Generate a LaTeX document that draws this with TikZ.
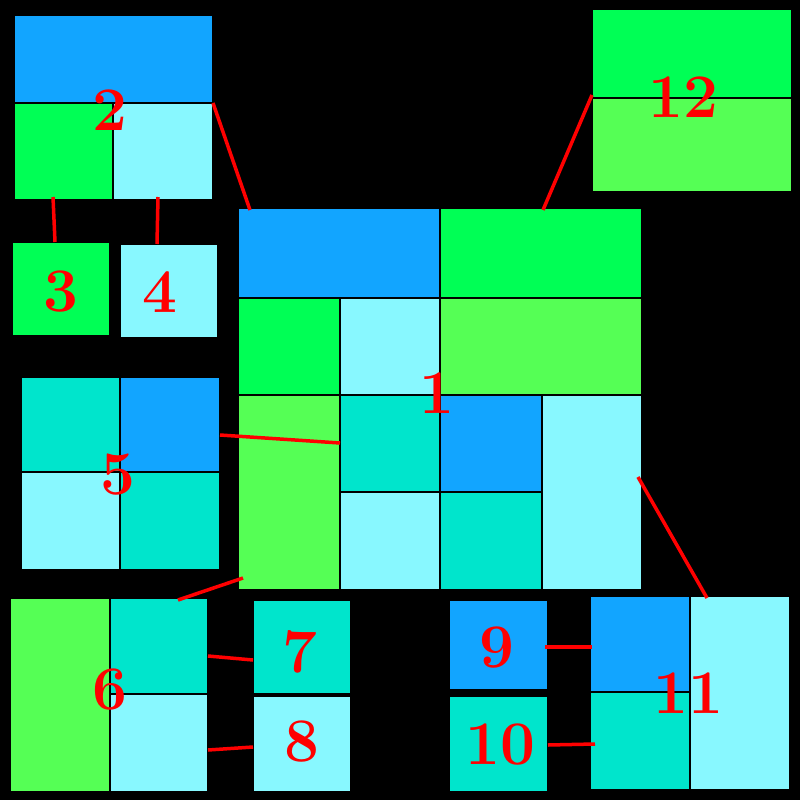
\documentclass[tikz,border=0pt]{standalone}
\begin{document}
\begin{tikzpicture}[x=1pt,y=-1pt,
 cell/.style={draw=black,line width=1.5pt},
 lbl/.style={text=red,font=\fontsize{62}{62}\selectfont\bfseries},
 con/.style={draw=red,line width=3.5pt}]
\definecolor{cB}{HTML}{12A5FF}\definecolor{cG}{HTML}{00FF55}
\definecolor{cL}{HTML}{55FF55}\definecolor{cC}{HTML}{88F8FF}
\definecolor{cT}{HTML}{00E5CC}
\fill[black] (0,0) rectangle (800,800);
\useasboundingbox (0,0) rectangle (800,800);
% 1
\filldraw[cell,fill=cB] (238,208) rectangle (440,298);
\filldraw[cell,fill=cG] (440,208) rectangle (642,298);
\filldraw[cell,fill=cG] (238,298) rectangle (340,395);
\filldraw[cell,fill=cC] (340,298) rectangle (440,395);
\filldraw[cell,fill=cL] (440,298) rectangle (642,395);
\filldraw[cell,fill=cL] (238,395) rectangle (340,590);
\filldraw[cell,fill=cT] (340,395) rectangle (440,492);
\filldraw[cell,fill=cB] (440,395) rectangle (542,492);
\filldraw[cell,fill=cC] (542,395) rectangle (642,590);
\filldraw[cell,fill=cC] (340,492) rectangle (440,590);
\filldraw[cell,fill=cT] (440,492) rectangle (542,590);
\node[lbl] (n1) at (437,393) {1};
% 2
\filldraw[cell,fill=cB] (14,15) rectangle (213,103);
\filldraw[cell,fill=cG] (14,103) rectangle (113,200);
\filldraw[cell,fill=cC] (113,103) rectangle (213,200);
\node[lbl] (n2) at (110,110) {2};
% 3 4
\filldraw[cell,fill=cG] (12,242) rectangle (110,336);
\node[lbl] (n3) at (61,292) {3};
\filldraw[cell,fill=cC] (120,244) rectangle (218,338);
\node[lbl] (n4) at (160,292) {4};
% 5
\filldraw[cell,fill=cT] (21,377) rectangle (120,472);
\filldraw[cell,fill=cB] (120,377) rectangle (220,472);
\filldraw[cell,fill=cC] (21,472) rectangle (120,570);
\filldraw[cell,fill=cT] (120,472) rectangle (220,570);
\node[lbl] (n5) at (118,475) {5};
% 6
\filldraw[cell,fill=cL] (10,598) rectangle (110,792);
\filldraw[cell,fill=cT] (110,598) rectangle (208,694);
\filldraw[cell,fill=cC] (110,694) rectangle (208,792);
\node[lbl] (n6) at (110,690) {6};
% 7 8
\filldraw[cell,fill=cT] (253,600) rectangle (351,694);
\node[lbl] (n7) at (300,652) {7};
\filldraw[cell,fill=cC] (253,696) rectangle (351,792);
\node[lbl] (n8) at (302,742) {8};
% 9 10
\filldraw[cell,fill=cB] (449,600) rectangle (548,690);
\node[lbl] (n9) at (497,648) {9};
\filldraw[cell,fill=cT] (449,696) rectangle (548,792);
\node[lbl] (n10) at (500,745) {10};
% 11
\filldraw[cell,fill=cB] (590,596) rectangle (690,692);
\filldraw[cell,fill=cT] (590,692) rectangle (690,790);
\filldraw[cell,fill=cC] (690,596) rectangle (790,790);
\node[lbl] (n11) at (688,693) {11};
% 12
\filldraw[cell,fill=cG] (592,9) rectangle (792,98);
\filldraw[cell,fill=cL] (592,98) rectangle (792,192);
\node[lbl] (n12) at (683,97) {12};
% connectors
\coordinate (a1) at (213,103); \coordinate (a2) at (250,210);
\coordinate (b1) at (592,95); \coordinate (b2) at (543,210);
\coordinate (c1) at (53,197); \coordinate (c2) at (55,242);
\coordinate (d1) at (158,197); \coordinate (d2) at (157,244);
\coordinate (e1) at (220,435); \coordinate (e2) at (340,443);
\coordinate (f1) at (178,600); \coordinate (f2) at (243,578);
\coordinate (g1) at (208,656); \coordinate (g2) at (253,660);
\coordinate (h1) at (208,750); \coordinate (h2) at (253,747);
\coordinate (i1) at (545,647); \coordinate (i2) at (592,647);
\coordinate (j1) at (548,745); \coordinate (j2) at (595,744);
\coordinate (k1) at (638,477); \coordinate (k2) at (707,598);
\foreach \p/\q in {a1/a2,b1/b2,c1/c2,d1/d2,e1/e2,f1/f2,g1/g2,h1/h2,i1/i2,j1/j2,k1/k2}
  \draw[con] (\p) -- (\q);
\end{tikzpicture}
\end{document}
